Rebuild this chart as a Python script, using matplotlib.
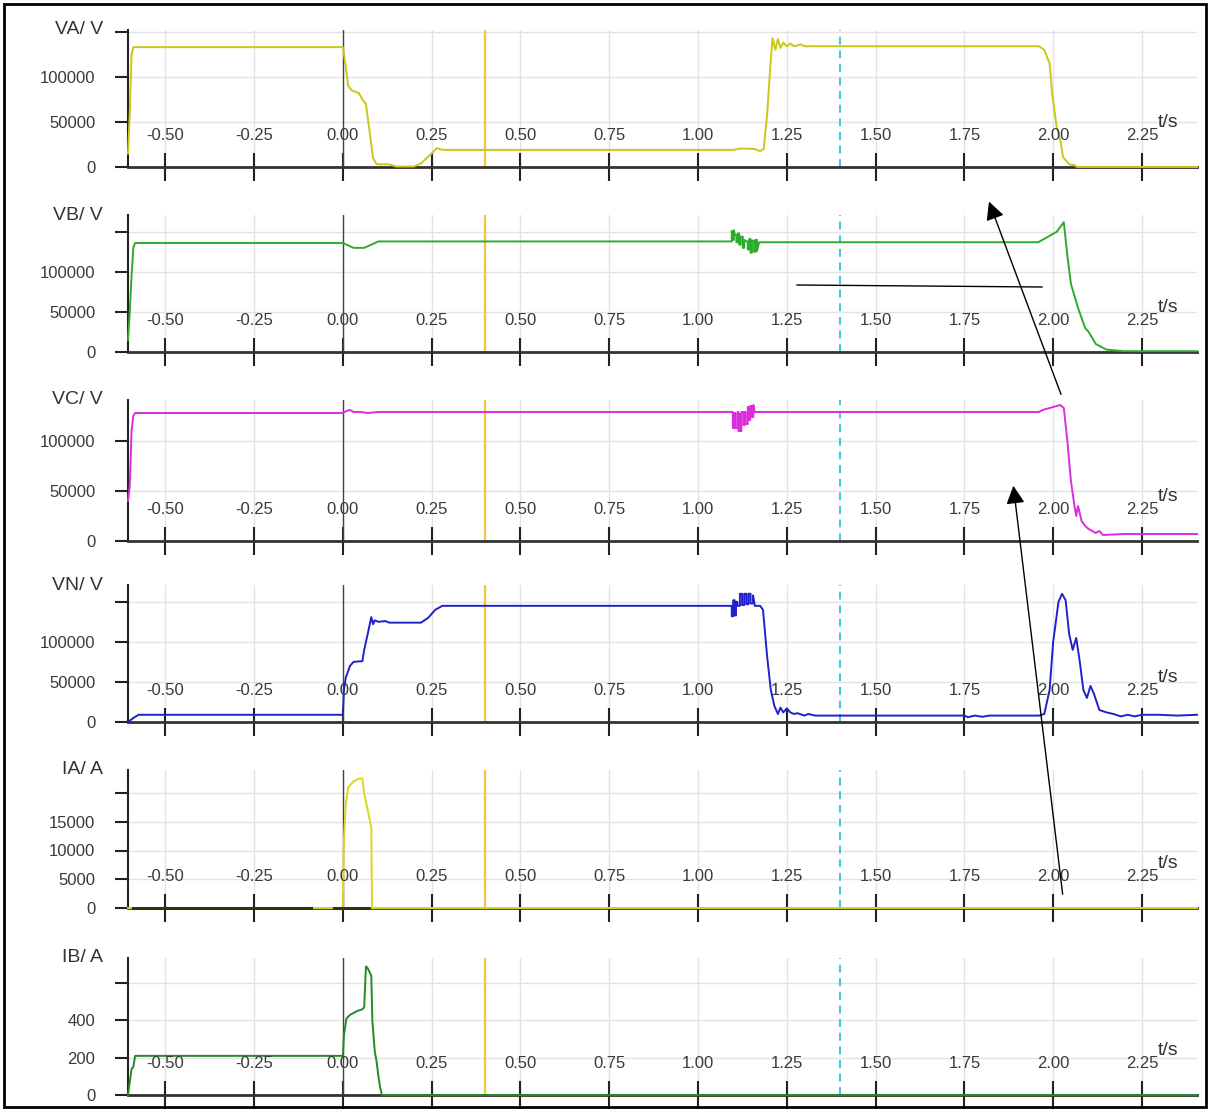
import matplotlib.pyplot as plt
from matplotlib.patches import Rectangle, FancyArrowPatch
from matplotlib.lines import Line2D

plt.rcParams['font.family'] = ['Liberation Sans', 'DejaVu Sans']

# recorder traces, time in s
va_t = [-0.605, -0.600, -0.595, -0.590, 0.000, 0.005, 0.010, 0.015, 0.025, 0.045, 0.055, 0.065,
        0.075, 0.085, 0.095, 0.130, 0.150, 0.200, 0.220, 0.250, 0.265, 0.280, 1.100, 1.120,
        1.160, 1.175, 1.185, 1.195, 1.205, 1.210, 1.218, 1.225, 1.232, 1.240, 1.250, 1.260,
        1.270, 1.280, 1.290, 1.300, 1.960, 1.975, 1.990, 1.997, 2.010, 2.020, 2.028, 2.045,
        2.060, 2.067, 2.405]
va_v = [15000, 60000, 125000, 133000, 133000, 120000, 105000, 90000, 85000, 82000, 75000, 70000,
        40000, 10000, 3000, 3000, 500, 500, 4000, 15000, 21000, 19000, 19000, 20500,
        20000, 17500, 20000, 60000, 120000, 143000, 130000, 142000, 132000, 138000, 134000, 137000,
        134000, 135000, 136000, 134000, 134000, 130000, 115000, 82000, 44000, 30000, 11000, 3000,
        2000, 0, 0]

vb_t = [-0.605, -0.600, -0.595, -0.590, -0.585, 0.000, 0.010, 0.030, 0.060, 0.080, 0.100, 1.095,
        1.095, 1.098, 1.098, 1.101, 1.101, 1.104, 1.108, 1.108, 1.112, 1.112, 1.116, 1.116,
        1.120, 1.120, 1.126, 1.126, 1.130, 1.130, 1.136, 1.140, 1.140, 1.144, 1.144, 1.148,
        1.148, 1.152, 1.152, 1.158, 1.158, 1.162, 1.162, 1.166, 1.166, 1.172, 1.958, 1.990,
        2.010, 2.030, 2.040, 2.050, 2.060, 2.070, 2.090, 2.100, 2.120, 2.150, 2.200, 2.405]
vb_v = [15000, 50000, 95000, 130000, 136000, 136000, 134000, 130000, 130000, 134000, 138000, 138000,
        151000, 151000, 140000, 140000, 152000, 146000, 146000, 137000, 137000, 148000, 148000, 134000,
        134000, 144000, 144000, 130000, 130000, 140000, 138000, 138000, 128000, 128000, 141000, 141000,
        124000, 124000, 139000, 139000, 125000, 125000, 140000, 140000, 126000, 137000, 137000, 145000,
        150000, 162000, 120000, 85000, 70000, 55000, 30000, 25000, 10000, 3000, 1000, 1000]

vc_t = [-0.605, -0.600, -0.595, -0.590, -0.585, 0.000, 0.010, 0.020, 0.030, 0.050, 0.070, 0.100,
        1.098, 1.098, 1.100, 1.100, 1.102, 1.102, 1.104, 1.104, 1.106, 1.106, 1.112, 1.112,
        1.114, 1.114, 1.116, 1.116, 1.118, 1.118, 1.122, 1.122, 1.128, 1.128, 1.131, 1.131,
        1.134, 1.134, 1.140, 1.140, 1.143, 1.143, 1.147, 1.147, 1.152, 1.152, 1.156, 1.156,
        1.160, 1.960, 1.970, 1.990, 2.000, 2.020, 2.030, 2.040, 2.050, 2.060, 2.065, 2.070,
        2.080, 2.090, 2.100, 2.120, 2.130, 2.140, 2.200, 2.405]
vc_v = [40000, 55000, 110000, 125000, 128000, 128000, 130000, 131000, 129000, 129000, 128000, 129000,
        129000, 113000, 113000, 128000, 128000, 113000, 113000, 128000, 128000, 113000, 113000, 129000,
        129000, 110000, 110000, 127000, 127000, 110000, 110000, 129000, 129000, 116000, 116000, 129000,
        129000, 117000, 117000, 134000, 134000, 121000, 121000, 135000, 135000, 124000, 124000, 136000,
        129000, 129000, 131000, 133000, 134000, 136000, 133000, 100000, 60000, 35000, 25000, 35000,
        20000, 15000, 12000, 8000, 10000, 6000, 7000, 7000]

vn_t = [-0.605, -0.590, -0.575, 0.000, 0.003, 0.008, 0.020, 0.030, 0.055, 0.060, 0.070, 0.080,
        0.085, 0.090, 0.100, 0.120, 0.130, 0.220, 0.240, 0.260, 0.280, 1.095, 1.095, 1.099,
        1.099, 1.103, 1.103, 1.107, 1.107, 1.111, 1.111, 1.118, 1.118, 1.124, 1.124, 1.130,
        1.130, 1.136, 1.136, 1.142, 1.142, 1.148, 1.148, 1.155, 1.155, 1.160, 1.175, 1.183,
        1.195, 1.205, 1.215, 1.225, 1.232, 1.240, 1.250, 1.260, 1.270, 1.280, 1.300, 1.310,
        1.330, 1.750, 1.760, 1.780, 1.800, 1.820, 1.960, 1.975, 1.990, 2.000, 2.015, 2.025,
        2.035, 2.045, 2.055, 2.065, 2.075, 2.085, 2.095, 2.105, 2.115, 2.130, 2.150, 2.170,
        2.190, 2.210, 2.230, 2.250, 2.300, 2.350, 2.405]
vn_v = [0, 5000, 9000, 9000, 40000, 55000, 70000, 75000, 76000, 90000, 110000, 131000,
        122000, 127000, 125000, 126000, 124000, 124000, 130000, 140000, 145000, 145000, 132000, 132000,
        152000, 152000, 133000, 133000, 150000, 150000, 145000, 145000, 160000, 160000, 146000, 146000,
        160000, 160000, 147000, 147000, 160000, 160000, 148000, 148000, 158000, 145000, 145000, 140000,
        80000, 40000, 20000, 10000, 18000, 12000, 17000, 12000, 10000, 11000, 8000, 10000,
        8000, 8000, 6000, 8000, 6500, 8000, 8000, 10000, 40000, 100000, 150000, 160000,
        152000, 110000, 90000, 105000, 75000, 40000, 30000, 45000, 35000, 15000, 12000, 10000,
        7000, 9000, 7000, 9000, 9000, 8000, 9000]

ia_t = [-0.605, 0.000, 0.003, 0.008, 0.015, 0.030, 0.045, 0.055, 0.060, 0.070, 0.080, 0.082, 2.405]
ia_v = [0, 0, 12000, 18000, 21000, 22000, 22500, 22500, 20000, 17000, 14000, 0, 0]
ia_dark_spans = [(-0.590, -0.090), (-0.025, 0.070)]

ib_t = [-0.605, -0.600, -0.595, -0.590, -0.585, 0.000, 0.003, 0.010, 0.020, 0.040, 0.055, 0.060,
        0.065, 0.070, 0.075, 0.080, 0.083, 0.090, 0.095, 0.100, 0.105, 0.110, 2.405]
ib_v = [0, 70, 140, 150, 210, 210, 320, 410, 430, 450, 460, 470,
        690, 680, 660, 640, 400, 230, 180, 100, 40, 0, 0]

x_ticks = [-0.50, -0.25, 0.00, 0.25, 0.50, 0.75, 1.00, 1.25, 1.50, 1.75, 2.00, 2.25]
x_tick_labels = ['-0.50', '-0.25', '0.00', '0.25', '0.50', '0.75', '1.00', '1.25', '1.50',
                 '1.75', '2.00', '2.25']
t_lo, t_hi = -0.605, 2.405
t_trip = 0.40      # yellow marker
t_cursor = 1.40    # cyan dashed cursor

W, H = 1209, 1111
fig = plt.figure(figsize=(W / 100, H / 100), dpi=100)

# name, time, values, colour, yticks, ytick labels, ymax, top px, zero px
panels = [
    ('VA/ V', va_t, va_v, '#c9c814', [0, 50000, 100000, 150000], ['0', '50000', '100000', ''], 152000, 30, 167),
    ('VB/ V', vb_t, vb_v, '#2eaa2e', [0, 50000, 100000, 150000], ['0', '50000', '100000', ''], 171000, 215, 352),
    ('VC/ V', vc_t, vc_v, '#dd2cdd', [0, 50000, 100000], ['0', '50000', '100000'], 141000, 400, 541),
    ('VN/ V', vn_t, vn_v, '#2020cc', [0, 50000, 100000, 150000], ['0', '50000', '100000', ''], 171000, 585, 722),
    ('IA/ A', ia_t, ia_v, '#d8d81c', [0, 5000, 10000, 15000, 20000], ['0', '5000', '10000', '15000', ''], 24000, 770, 908),
    ('IB/ A', ib_t, ib_v, '#228b22', [0, 200, 400, 600], ['0', '200', '400', ''], 735, 958, 1095),
]

for name, t, v, col, yt, ylab, ymax, top, zero in panels:
    ax = fig.add_axes([128 / W, 1 - zero / H, 1069 / W, (zero - top) / H])
    ax.set_xlim(t_lo, t_hi)
    ax.set_ylim(0, ymax)
    for s in ['top', 'right']:
        ax.spines[s].set_visible(False)
    ax.spines['left'].set_linewidth(1.5)
    ax.spines['left'].set_color('#222222')
    ax.spines['bottom'].set_linewidth(2)
    ax.spines['bottom'].set_color('#333333')

    ax.set_xticks(x_ticks)
    ax.tick_params(axis='x', direction='inout', length=20, width=1.5, color='#222222', labelbottom=False)
    ax.set_yticks(yt)
    ax.set_yticklabels(ylab)
    ax.tick_params(axis='y', direction='out', length=9.5, width=1.5, pad=14, labelsize=12,
                   labelcolor='#3a3a3a', color='#222222')
    ax.grid(True, color='#e3e3e3', lw=1)
    ax.set_axisbelow(True)

    ax.axvline(0, color='#444444', lw=1, zorder=1.5)
    ax.axvline(t_trip, color='#f5c342', lw=1.6, zorder=1.5)
    ax.axvline(t_cursor, color='#3cc6da', lw=1.4, ls=(0, (4, 3)), zorder=1.5)

    ax.plot(t, v, color=col, lw=1.4, clip_on=False, zorder=3)
    if name == 'IA/ A':
        for a, b in ia_dark_spans:
            ax.plot([a, b], [0, 0], color='#333300', lw=2.2, clip_on=False, zorder=3.5)

    for xt, lab in zip(x_ticks, x_tick_labels):
        ax.annotate(lab, (xt, 0), xytext=(0, 23), textcoords='offset points', ha='center', va='center',
                    fontsize=12, color='#3a3a3a', annotation_clip=False, zorder=4)
    ax.annotate('t/s', (2.295, 0), xytext=(0, 32), textcoords='offset points', ha='left', va='center',
                fontsize=14, color='#333333', annotation_clip=False)
    ax.text(-0.0234, 1.0, name, transform=ax.transAxes, ha='right', va='center', fontsize=14, color='#333333')


def fpt(x, y):
    return (x / W, 1 - y / H)


# hand-drawn arrows and line on top of the figure
fig.add_artist(FancyArrowPatch(fpt(1062, 397), fpt(988, 199), transform=fig.transFigure,
                               arrowstyle='-|>,head_length=0.55,head_width=0.28', mutation_scale=20,
                               color='black', lw=1))
fig.add_artist(FancyArrowPatch(fpt(1063, 897), fpt(1013, 483), transform=fig.transFigure,
                               arrowstyle='-|>,head_length=0.55,head_width=0.28', mutation_scale=20,
                               color='black', lw=1))
fig.add_artist(Line2D([797 / W, 1042 / W], [1 - 285 / H, 1 - 287 / H], transform=fig.transFigure,
                      color='black', lw=1))

fig.add_artist(Rectangle((4 / W, 4 / H), 1202 / W, 1103 / H, transform=fig.transFigure,
                         fill=False, ec='black', lw=2))

fig.savefig('out.png', dpi=100)
